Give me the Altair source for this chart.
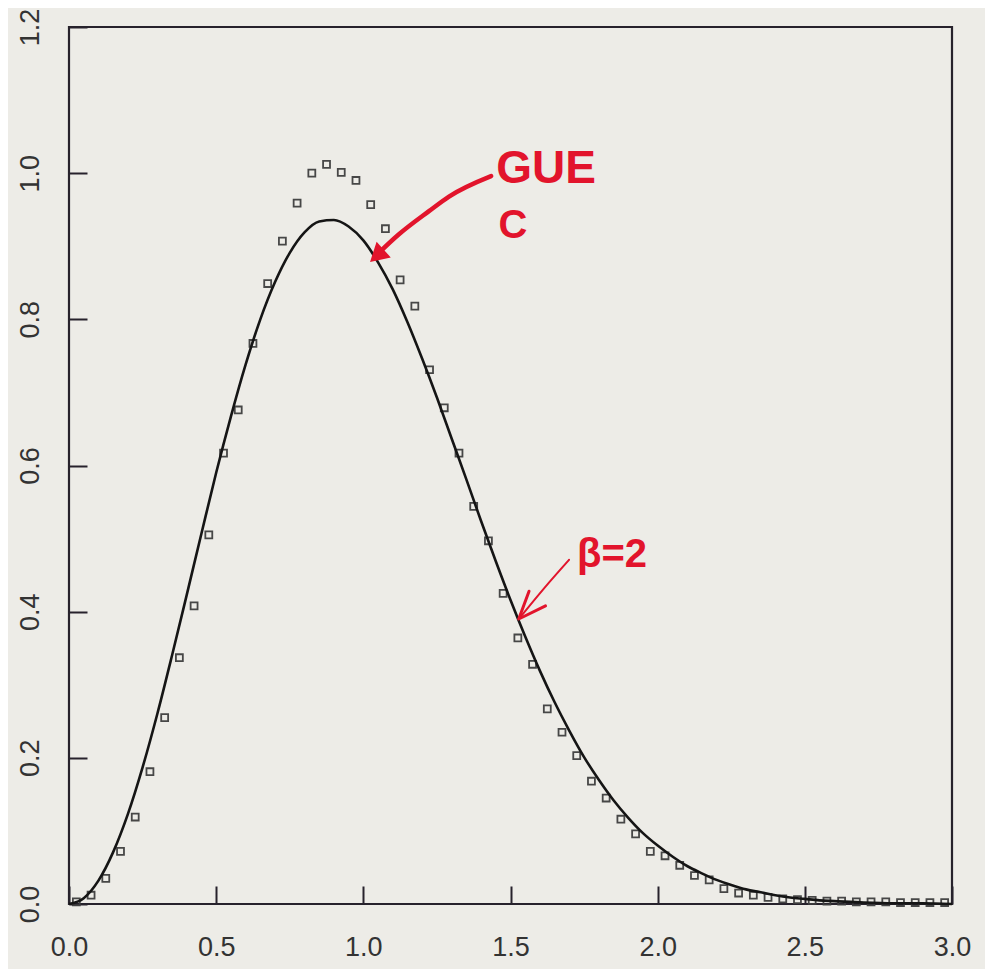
import altair as alt
import pandas as pd

# ---------------- data ----------------
curve_x = [0.00, 0.05, 0.10, 0.15, 0.20, 0.25, 0.30, 0.35, 0.40, 0.45,
           0.50, 0.55, 0.60, 0.65, 0.70, 0.75, 0.80, 0.85, 0.90, 0.95,
           1.00, 1.05, 1.10, 1.15, 1.20, 1.25, 1.30, 1.35, 1.40, 1.45,
           1.50, 1.55, 1.60, 1.65, 1.70, 1.75, 1.80, 1.85, 1.90, 1.95,
           2.00, 2.05, 2.10, 2.15, 2.20, 2.25, 2.30, 2.35, 2.40, 2.45,
           2.50, 2.55, 2.60, 2.70, 2.80, 2.90, 3.00]
curve_y = [0.000, 0.008, 0.032, 0.071, 0.123, 0.187, 0.260, 0.340, 0.423, 0.507,
           0.590, 0.667, 0.738, 0.800, 0.851, 0.891, 0.919, 0.934, 0.936, 0.927,
           0.908, 0.878, 0.841, 0.796, 0.746, 0.693, 0.637, 0.581, 0.524, 0.469,
           0.416, 0.366, 0.319, 0.276, 0.237, 0.201, 0.170, 0.142, 0.118, 0.097,
           0.080, 0.065, 0.052, 0.042, 0.033, 0.026, 0.020, 0.016, 0.012, 0.009,
           0.007, 0.005, 0.004, 0.002, 0.001, 0.001, 0.000]

hist_x = [0.025, 0.075, 0.125, 0.175, 0.225, 0.275, 0.325, 0.375, 0.425, 0.475,
          0.525, 0.575, 0.625, 0.675, 0.725, 0.775, 0.825, 0.875, 0.925, 0.975,
          1.025, 1.075, 1.125, 1.175, 1.225, 1.275, 1.325, 1.375, 1.425, 1.475,
          1.525, 1.575, 1.625, 1.675, 1.725, 1.775, 1.825, 1.875, 1.925, 1.975,
          2.025, 2.075, 2.125, 2.175, 2.225, 2.275, 2.325, 2.375, 2.425, 2.475,
          2.525, 2.575, 2.625, 2.675, 2.725, 2.775, 2.825, 2.875, 2.925, 2.975]
hist_y = [0.003, 0.012, 0.035, 0.072, 0.119, 0.181, 0.255, 0.337, 0.408, 0.505,
          0.617, 0.676, 0.767, 0.849, 0.907, 0.959, 1.000, 1.012, 1.001, 0.990,
          0.957, 0.924, 0.854, 0.818, 0.731, 0.679, 0.617, 0.544, 0.497, 0.425,
          0.364, 0.328, 0.267, 0.235, 0.203, 0.168, 0.145, 0.116, 0.096, 0.072,
          0.066, 0.053, 0.039, 0.033, 0.021, 0.015, 0.012, 0.009, 0.007, 0.006,
          0.005, 0.004, 0.004, 0.003, 0.003, 0.003, 0.002, 0.002, 0.002, 0.002]

x_ticks = [0.0, 0.5, 1.0, 1.5, 2.0, 2.5, 3.0]
y_ticks = [0.0, 0.2, 0.4, 0.6, 0.8, 1.0, 1.2]

# hand-written red annotations (data coordinates)
gue_text = ["GUE", "C"]
gue_text_x = [1.621, 1.508]
gue_text_y = [1.006, 0.928]
gue_arrow_x = [1.434, 1.291, 1.223, 1.120, 1.040]
gue_arrow_y = [0.996, 0.968, 0.948, 0.916, 0.886]
gue_head_x = [1.046]
gue_head_y = [0.887]

beta_text = ["β=2"]
beta_text_x = [1.845]
beta_text_y = [0.477]
beta_arrow_x = [1.699, 1.614, 1.528]
beta_arrow_y = [0.471, 0.432, 0.390]
beta_head_x = [1.563, 1.528, 1.619]
beta_head_y = [0.428, 0.390, 0.408]

# ---------------- styling ----------------
INK = "#27222c"
RED = "#e2142c"
FONT = "Liberation Sans"

xs = alt.Scale(domain=[0, 3], nice=False, zero=False)
ys = alt.Scale(domain=[0, 1.2], nice=False, zero=False)

x_axis = alt.Axis(values=x_ticks, format=".1f", title=None, grid=False, domain=False,
                  offset=-18, tickSize=18, tickWidth=2, tickColor=INK,
                  labelPadding=30, labelFont=FONT, labelFontSize=27,
                  labelColor="#333333", labelFlush=False, labelOverlap=False)
y_axis = alt.Axis(values=y_ticks, format=".1f", title=None, grid=False, domain=False,
                  offset=-18, tickSize=18, tickWidth=2, tickColor=INK,
                  labelPadding=31, labelFont=FONT, labelFontSize=27,
                  labelColor="#333333", labelAngle=270, labelAlign="center",
                  labelBaseline="alphabetic", labelFlush=False, labelOverlap=False)


def X():
    return alt.X("x:Q", scale=xs, axis=x_axis)


def Y():
    return alt.Y("y:Q", scale=ys, axis=y_axis)


curve_df = pd.DataFrame({"x": curve_x, "y": curve_y})
hist_df = pd.DataFrame({"x": hist_x, "y": hist_y})

curve = alt.Chart(curve_df).mark_line(color="#151515", strokeWidth=2.6,
                                      interpolate="monotone").encode(x=X(), y=Y())

points = alt.Chart(hist_df).mark_point(shape="square", filled=False, size=48,
                                       strokeWidth=1.8, color="#3f3f3f",
                                       opacity=0.95).encode(x=X(), y=Y())

gue_lbl = alt.Chart(pd.DataFrame({"x": gue_text_x, "y": gue_text_y, "t": gue_text,
                                  "s": [46, 40]})).mark_text(
    font=FONT, fontWeight="bold", color=RED, align="center", baseline="middle"
).encode(x=X(), y=Y(), text="t:N", size=alt.Size("s:Q", scale=None, legend=None))

gue_arrow = alt.Chart(pd.DataFrame({"x": gue_arrow_x, "y": gue_arrow_y,
                                    "o": list(range(len(gue_arrow_x)))})).mark_line(
    color=RED, strokeWidth=4.5, interpolate="monotone", strokeCap="round"
).encode(x=X(), y=Y(), order="o:Q")

gue_head = alt.Chart(pd.DataFrame({"x": gue_head_x, "y": gue_head_y})).mark_point(
    shape="triangle-up", filled=True, size=450, color=RED, opacity=1, angle=228
).encode(x=X(), y=Y())

beta_lbl = alt.Chart(pd.DataFrame({"x": beta_text_x, "y": beta_text_y,
                                   "t": beta_text})).mark_text(
    font=FONT, fontWeight="bold", fontSize=40, color=RED, align="center", baseline="middle"
).encode(x=X(), y=Y(), text="t:N")

beta_arrow = alt.Chart(pd.DataFrame({"x": beta_arrow_x, "y": beta_arrow_y,
                                     "o": list(range(len(beta_arrow_x)))})).mark_line(
    color=RED, strokeWidth=2, interpolate="monotone", strokeCap="round"
).encode(x=X(), y=Y(), order="o:Q")

beta_head = alt.Chart(pd.DataFrame({"x": beta_head_x, "y": beta_head_y,
                                    "o": list(range(len(beta_head_x)))})).mark_line(
    color=RED, strokeWidth=3, strokeCap="round", strokeJoin="round"
).encode(x=X(), y=Y(), order="o:Q")

chart = alt.layer(points, curve, gue_arrow, gue_head, gue_lbl,
                  beta_arrow, beta_head, beta_lbl).properties(
    width=883, height=877,
    autosize=alt.AutoSizeParams(type="none"),
    padding={"left": 61, "top": 19, "right": 33, "bottom": 65},
    background="#edece7",
).configure_view(stroke=INK, strokeWidth=2.2)

chart.save("out.html", embed_options={"renderer": "svg", "actions": False})
